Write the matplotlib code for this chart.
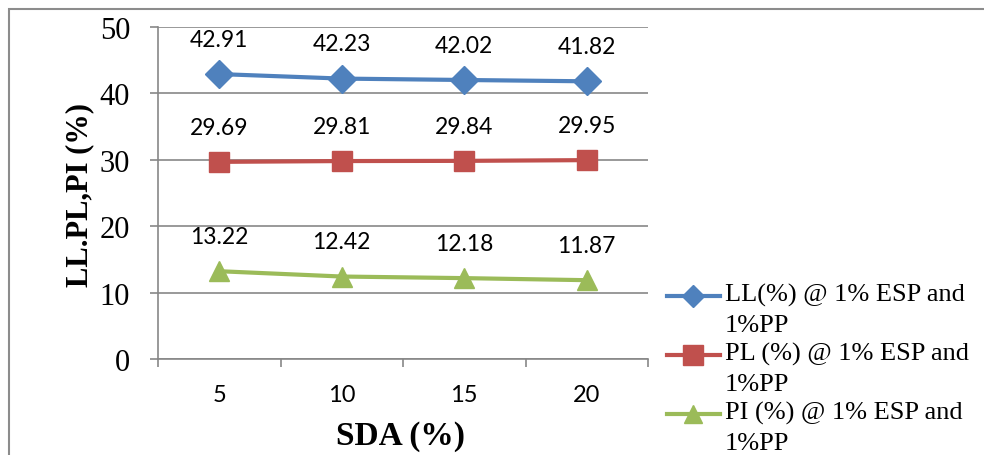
import matplotlib
matplotlib.use("Agg")
import matplotlib.pyplot as plt
from matplotlib.lines import Line2D
from matplotlib.patches import Rectangle
import numpy as np

categories = ["5", "10", "15", "20"]
ll_values = [42.91, 42.23, 42.02, 41.82]
pl_values = [29.69, 29.81, 29.84, 29.95]
pi_values = [13.22, 12.42, 12.18, 11.87]
series_names = ["LL(%) @ 1% ESP and\n1%PP", "PL (%) @ 1% ESP and\n1%PP", "PI (%) @ 1% ESP and\n1%PP"]
y_ticks = [0, 10, 20, 30, 40, 50]
x_label = "SDA (%)"
y_label = "LL.PL,PI (%)"

colors = ["#4F81BD", "#C0504D", "#9BBB59"]
markers = ["D", "s", "^"]
msizes = [14, 15, 15]
leg_msizes = [11, 14, 13]
serif = "Liberation Serif"
sans = "Lato"
grid_c = "#878787"

W, H = 984, 456
fig = plt.figure(figsize=(W / 100, H / 100), dpi=100)
fig.patches.append(Rectangle((9 / W, -0.1), 1.2, 1.1 - 10 / H, transform=fig.transFigure,
                             fill=False, edgecolor="#8C8C8C", linewidth=1.5, zorder=0))

ax = fig.add_axes([158 / W, 1 - 360 / H, (648 - 158) / W, (360 - 28) / H])
x = np.arange(len(categories))
all_series = [ll_values, pl_values, pi_values]
for vals, c, m, ms in zip(all_series, colors, markers, msizes):
    ax.plot(x, vals, color=c, marker=m, markersize=ms, linewidth=3, zorder=3, clip_on=False)
    for xi, v in zip(x, vals):
        ax.annotate(f"{v:.2f}", (xi, v), xytext=(0, 25), textcoords="offset points",
                    ha="center", va="center", fontsize=16.5, family=sans, color="black")

ax.set_xlim(-0.5, len(categories) - 0.5)
ax.set_ylim(0, 50)
ax.set_yticks(y_ticks)
ax.set_yticklabels([str(t) for t in y_ticks], fontsize=22, family=serif)
ax.yaxis.grid(True, color=grid_c, linewidth=1.2)
ax.set_axisbelow(True)
ax.set_xticks(np.arange(len(categories) + 1) - 0.5)
ax.set_xticklabels([])
ax.set_xticks(x, minor=True)
ax.set_xticklabels(categories, minor=True, fontsize=17, family=sans)
ax.tick_params(axis="x", which="minor", length=0, pad=18)
ax.tick_params(axis="x", which="major", length=6, color=grid_c, width=1.2)
ax.tick_params(axis="y", length=6, color=grid_c, width=1.2, pad=14)
for s in ["top", "right"]:
    ax.spines[s].set_visible(False)
for s in ["left", "bottom"]:
    ax.spines[s].set_color(grid_c)
    ax.spines[s].set_linewidth(1.2)

fig.text(80 / W, 1 - 195 / H, y_label, rotation=90, ha="center", va="center",
         fontsize=22, fontweight="bold", family=serif)
fig.text(400 / W, 1 - 437 / H, x_label, ha="center", va="center",
         fontsize=24, fontweight="bold", family=serif)

# legend
leg_y = [297, 356, 415]
for name, c, m, ms, yy in zip(series_names, colors, markers, leg_msizes, leg_y):
    fig.add_artist(Line2D([667 / W, 720 / W], [1 - yy / H] * 2, transform=fig.transFigure,
                          color=c, linewidth=3))
    fig.add_artist(Line2D([693 / W], [1 - yy / H], transform=fig.transFigure,
                          color=c, marker=m, markersize=ms, linestyle="none"))
    fig.text(725 / W, 1 - (yy - 13) / H, name, ha="left", va="top", fontsize=19,
             family=serif, linespacing=1.45)

fig.savefig("out.png", dpi=100)
